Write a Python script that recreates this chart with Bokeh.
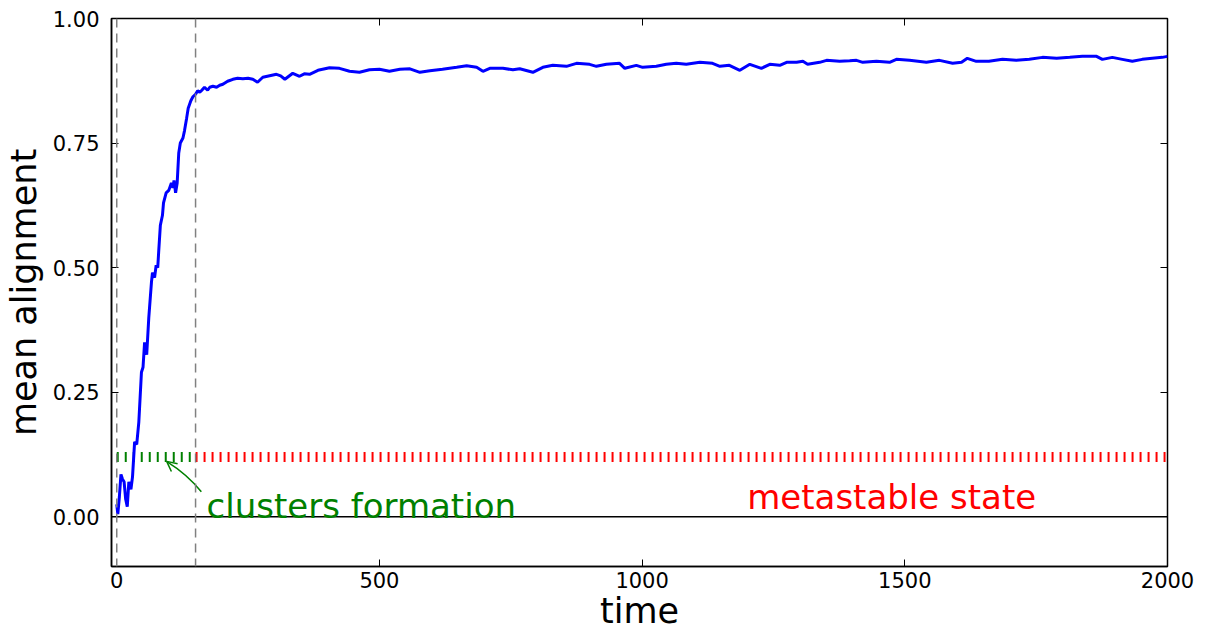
from bokeh.plotting import figure
from bokeh.models import (Range1d, FixedTicker, LinearAxis, Span, Label, Arrow,
                          OpenHead, NumeralTickFormatter)
from bokeh.embed import file_html
from bokeh.resources import INLINE

# ---- data ----
time = [0, 2, 5, 8, 11, 14, 17, 20, 23, 27, 30, 34, 38, 42, 47, 50, 53, 57, 61, 66,
        68, 72, 75, 78, 80, 83, 87, 89, 94, 99, 104, 107, 109, 112, 115, 118, 121, 126,
        129, 133, 136, 141, 145, 150, 154, 158, 161, 167, 173, 177, 183, 190, 196, 202,
        211, 221, 230, 240, 250, 259, 268, 278, 291, 304, 312, 320, 335, 348, 357, 367,
        383, 405, 424, 443, 462, 481, 500, 519, 539, 558, 577, 596, 620, 647, 666, 685,
        697, 710, 735, 754, 767, 792, 811, 830, 856, 875, 900, 913, 932, 957, 967, 989,
        1001, 1027, 1046, 1065, 1084, 1110, 1134, 1148, 1166, 1186, 1205, 1227, 1243,
        1262, 1275, 1294, 1306, 1315, 1338, 1351, 1376, 1395, 1408, 1420, 1446, 1471,
        1484, 1509, 1541, 1566, 1591, 1608, 1619, 1636, 1660, 1686, 1712, 1737, 1762,
        1789, 1814, 1838, 1865, 1876, 1895, 1914, 1933, 1952, 1971, 1990, 2000]
alignment = [0.025, 0.005, 0.04, 0.085, 0.075, 0.07, 0.035, 0.02, 0.07, 0.055, 0.08,
             0.15, 0.145, 0.19, 0.29, 0.30, 0.35, 0.325, 0.40, 0.47, 0.49, 0.48, 0.505,
             0.50, 0.535, 0.585, 0.605, 0.63, 0.65, 0.655, 0.67, 0.66, 0.675, 0.65, 0.67,
             0.73, 0.75, 0.76, 0.775, 0.80, 0.82, 0.835, 0.843, 0.848, 0.855, 0.852,
             0.855, 0.862, 0.856, 0.862, 0.864, 0.862, 0.866, 0.868, 0.874, 0.878, 0.880,
             0.879, 0.880, 0.878, 0.872, 0.882, 0.885, 0.888, 0.885, 0.878, 0.890, 0.884,
             0.889, 0.888, 0.896, 0.901, 0.900, 0.894, 0.892, 0.897, 0.898, 0.894, 0.898,
             0.899, 0.892, 0.895, 0.898, 0.902, 0.905, 0.902, 0.894, 0.900, 0.900, 0.897,
             0.899, 0.892, 0.902, 0.906, 0.904, 0.910, 0.908, 0.904, 0.908, 0.910, 0.900,
             0.906, 0.902, 0.904, 0.908, 0.910, 0.908, 0.912, 0.910, 0.904, 0.906, 0.896,
             0.908, 0.900, 0.908, 0.906, 0.912, 0.912, 0.914, 0.908, 0.912, 0.916, 0.914,
             0.915, 0.916, 0.912, 0.914, 0.912, 0.918, 0.916, 0.912, 0.916, 0.910, 0.912,
             0.920, 0.914, 0.914, 0.918, 0.916, 0.918, 0.922, 0.920, 0.922, 0.924, 0.924,
             0.918, 0.922, 0.918, 0.914, 0.918, 0.920, 0.922, 0.924]

phase_bounds = [0, 150]          # dashed vertical markers
cluster_x = [0, 150]             # green dotted segment
metastable_x = [150, 2000]       # red dotted segment
level = 0.12
x_ticks = [0, 500, 1000, 1500, 2000]
y_ticks = [0.0, 0.25, 0.5, 0.75, 1.0]

FONT = "DejaVu Sans"

p = figure(frame_width=1056, frame_height=548,
           x_range=Range1d(-10, 2000), y_range=Range1d(-0.1, 1.0),
           output_backend="svg", toolbar_location=None,
           min_border_left=104, min_border_right=37, min_border_top=18, min_border_bottom=20)
p.grid.visible = False
p.outline_line_color = "black"
p.outline_line_width = 1.5
p.background_fill_color = "white"
p.border_fill_color = "white"

def style_axis(ax, show_labels=True):
    ax.major_tick_in = 7
    ax.major_tick_out = 0
    ax.minor_tick_line_color = None
    ax.major_tick_line_color = "black"
    ax.major_tick_line_width = 1
    ax.axis_line_color = "black"
    ax.axis_line_width = 1.5
    if show_labels:
        ax.major_label_text_font = FONT
        ax.major_label_text_font_size = "21px"
        ax.major_label_text_color = "black"
        ax.axis_label_text_font = FONT
        ax.axis_label_text_font_size = "35px"
        ax.axis_label_text_font_style = "normal"
        ax.axis_label_text_color = "black"
    else:
        ax.major_label_overrides = {t: "" for t in ax.ticker.ticks}
        ax.major_label_standoff = 0
        ax.axis_line_color = None

xa = p.xaxis[0]
xa.ticker = FixedTicker(ticks=x_ticks)
xa.axis_label = "time"
style_axis(xa)
xa.major_label_standoff = 5
xa.axis_label_standoff = 0

ya = p.yaxis[0]
ya.ticker = FixedTicker(ticks=y_ticks)
ya.formatter = NumeralTickFormatter(format="0.00")
ya.axis_label = "mean alignment"
style_axis(ya)
ya.major_label_standoff = 12
ya.axis_label_standoff = 6

top = LinearAxis(ticker=FixedTicker(ticks=x_ticks))
style_axis(top, False)
p.add_layout(top, "above")
right = LinearAxis(ticker=FixedTicker(ticks=y_ticks))
style_axis(right, False)
p.add_layout(right, "right")

# zero line and phase boundaries
p.add_layout(Span(location=0, dimension="width", line_color="black", line_width=1.5))
for b in phase_bounds:
    p.add_layout(Span(location=b, dimension="height", line_color="#808080",
                      line_width=1.5, line_dash="9 6"))

# dotted phase levels
p.line(cluster_x, [level, level], line_color="green", line_width=10,
       line_dash="2 6", line_cap="butt")
p.line(metastable_x, [level, level], line_color="red", line_width=10,
       line_dash="2 6", line_cap="butt")

# main curve
p.line(time, alignment, line_color="blue", line_width=3)

# annotations
p.add_layout(Label(x=171, y=0.022, text="clusters formation", text_color="green",
                   text_font=FONT, text_font_size="34px", text_baseline="alphabetic"))
p.add_layout(Label(x=1200, y=0.04, text="metastable state", text_color="red",
                   text_font=FONT, text_font_size="34px", text_baseline="alphabetic"))
curve_x = [161, 140, 116, 96]
curve_y = [0.05, 0.077, 0.097, 0.11]
p.bezier(x0=[curve_x[0]], y0=[curve_y[0]], x1=[curve_x[3]], y1=[curve_y[3]],
         cx0=[curve_x[1]], cy0=[curve_y[1]], cx1=[curve_x[2]], cy1=[curve_y[2]],
         line_color="green", line_width=1.5)
p.add_layout(Arrow(end=OpenHead(size=10, line_color="green", line_width=1.5),
                   x_start=101, y_start=0.106, x_end=95, y_end=0.111,
                   line_color="green", line_alpha=0))

open("out.html", "w").write(file_html(p, INLINE))
